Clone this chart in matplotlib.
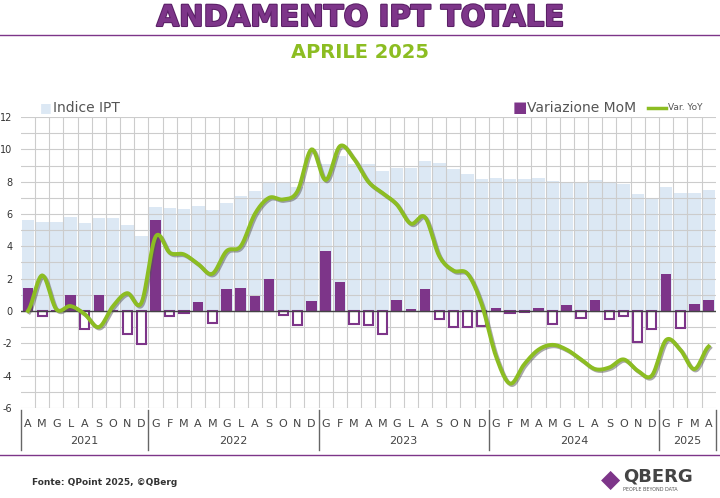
import numpy as np
import matplotlib.pyplot as plt
import matplotlib.patheffects as pe
from matplotlib.transforms import blended_transform_factory

# ================= Data =================
months = (list("AMGLASOND") + list("GFMAMGLASOND") * 3 + list("GFMA"))
years = ["2021", "2022", "2023", "2024", "2025"]
year_counts = [9, 12, 12, 12, 4]

indice = [5.6, 5.5, 5.5, 5.8, 5.45, 5.75, 5.75, 5.3, 4.65,
          6.45, 6.35, 6.3, 6.5, 6.25, 6.65, 7.1, 7.4, 8.0, 7.95, 7.7, 7.9,
          9.1, 9.6, 9.1, 9.1, 8.65, 8.85, 8.85, 9.3, 9.15, 8.8, 8.45, 8.15,
          8.25, 8.15, 8.15, 8.2, 8.05, 8.0, 7.9, 8.1, 7.95, 7.85, 7.25, 6.9,
          7.65, 7.3, 7.3, 7.5]
mom = [1.4, -0.3, 0.05, 1.0, -1.1, 1.0, 0.05, -1.45, -2.05,
       5.65, -0.3, -0.15, 0.55, -0.75, 1.35, 1.4, 0.95, 1.95, -0.25, -0.85, 0.6,
       3.7, 1.8, -0.8, -0.9, -1.4, 0.65, 0.1, 1.35, -0.5, -1.0, -1.0, -0.95,
       0.2, -0.15, -0.05, 0.15, -0.8, 0.35, -0.45, 0.7, -0.5, -0.3, -1.9, -1.1,
       2.3, -1.05, 0.4, 0.65]
yoy = [0.0, 2.2, 0.1, 0.3, -0.2, -1.0, 0.3, 1.1, 0.5,
       4.6, 3.6, 3.5, 2.9, 2.3, 3.7, 4.0, 6.0, 7.0, 6.9, 7.4, 10.0,
       8.1, 10.2, 9.4, 8.0, 7.3, 6.6, 5.4, 5.8, 3.4, 2.5, 2.3, 0.4,
       -2.8, -4.5, -3.3, -2.4, -2.1, -2.4, -3.0, -3.6, -3.5, -3.0, -3.7, -4.0,
       -1.8, -2.4, -3.6, -2.2]
# ========================================

PURPLE = "#7d3589"
GREEN = "#8cbd22"


def catmull_rom(y, steps=12):
    # smooth line through the monthly points
    pts = np.array(y, dtype=float)
    p = np.concatenate([[pts[0]], pts, [pts[-1]]])
    xs, ys = [], []
    for i in range(len(pts) - 1):
        p0, p1, p2, p3 = p[i], p[i + 1], p[i + 2], p[i + 3]
        t = np.linspace(0, 1, steps, endpoint=False)
        yy = 0.5 * (2 * p1 + (-p0 + p2) * t + (2 * p0 - 5 * p1 + 4 * p2 - p3) * t ** 2
                    + (-p0 + 3 * p1 - 3 * p2 + p3) * t ** 3)
        xs.extend(i + t)
        ys.extend(yy)
    xs.append(len(pts) - 1)
    ys.append(pts[-1])
    return np.array(xs), np.array(ys)


fig = plt.figure(figsize=(7.2, 4.98), dpi=100)
ax = fig.add_axes([0.029, 0.181, 0.965, 0.584])
x = np.arange(len(months))

ax.bar(x, indice, width=0.9, color="#dce8f4", zorder=1)
# grid drawn over the light index bars
for gy in range(-6, 13):
    ax.axhline(gy, color="#cccccc", linewidth=0.8, zorder=2)
for gx in x[1:]:
    ax.axvline(gx - 0.5, color="#cccccc", linewidth=0.8, zorder=2)

pos = [v if v > 0 else 0 for v in mom]
neg = [v if v < 0 else 0 for v in mom]
ax.bar(x, pos, width=0.75, color=PURPLE, zorder=3)
ax.bar(x, neg, width=0.65, facecolor="white", edgecolor=PURPLE, linewidth=1.5, zorder=3)
ax.axhline(0, color="#444444", linewidth=1, zorder=4)

sx, sy = catmull_rom(yoy)
ax.plot(sx, sy, color=GREEN, linewidth=2.8, zorder=5,
        path_effects=[pe.SimpleLineShadow(offset=(1, -1), shadow_color="#555555", alpha=0.5),
                      pe.Normal()])

ax.set_xlim(-0.5, len(months) - 0.5)
ax.set_ylim(-6, 12)
ax.set_yticks(range(-6, 13, 2))
ax.set_yticklabels([str(v) for v in range(-6, 13, 2)], fontsize=7, color="#333333")
ax.set_xticks([])
ax.tick_params(axis="y", which="both", length=0, pad=6)
for s in ax.spines.values():
    s.set_visible(False)

# month and year labels
tr = blended_transform_factory(ax.transData, fig.transFigure)
for i, m in enumerate(months):
    fig.text(i, 1 - 424 / 498, m, transform=tr, ha="center", va="center",
             fontsize=8, color="#444444")
start = 0
for yname, cnt in zip(years, year_counts):
    fig.text(start + cnt / 2 - 0.5, 1 - 441 / 498, yname, transform=tr, ha="center",
             va="center", fontsize=8, color="#444444")
    b = start - 0.5
    fig.add_artist(plt.Line2D([b, b], [1 - 410 / 498, 1 - 450 / 498], transform=tr,
                              color="#666666", linewidth=1))
    start += cnt
fig.add_artist(plt.Line2D([start - 0.5, start - 0.5], [1 - 410 / 498, 1 - 450 / 498],
                          transform=tr, color="#666666", linewidth=1))

# legends
fig.text(0.055, 1 - 108 / 498, "\u25a0", color="#dce8f4", fontsize=9, va="center")
fig.text(0.073, 1 - 108 / 498, "Indice IPT", color="#555555", fontsize=10, va="center")
fig.text(0.712, 1 - 108 / 498, "\u25a0", color=PURPLE, fontsize=11, va="center")
fig.text(0.732, 1 - 108 / 498, "Variazione MoM", color="#555555", fontsize=10, va="center")
fig.add_artist(plt.Line2D([0.9, 0.925], [1 - 108 / 498] * 2, color=GREEN, linewidth=2.5))
fig.text(0.928, 1 - 108 / 498, "Var. YoY", color="#555555", fontsize=6.5, va="center")

# header and footer
fig.text(0.5, 1 - 18 / 498, "ANDAMENTO IPT TOTALE", ha="center", va="center",
         fontsize=21, fontweight="black", color=PURPLE, family="DejaVu Sans",
         path_effects=[pe.withStroke(linewidth=1.5, foreground="#5a1f66")])
fig.add_artist(plt.Line2D([0, 1], [1 - 35 / 498] * 2, color=PURPLE, linewidth=1))
fig.text(0.5, 1 - 52 / 498, "APRILE 2025", ha="center", va="center",
         fontsize=14, fontweight="bold", color=GREEN)
fig.add_artist(plt.Line2D([0, 1], [1 - 455 / 498] * 2, color=PURPLE, linewidth=1))
fig.text(0.045, 1 - 482 / 498, "Fonte: QPoint 2025, \u00a9QBerg", fontsize=6.5,
         fontweight="bold", color="#333333", va="center")
fig.text(0.865, 1 - 476 / 498, "QBERG", fontsize=13, fontweight="bold",
         color="#444444", va="center")
fig.text(0.865, 1 - 489 / 498, "PEOPLE BEYOND DATA", fontsize=3.5, color="#555555",
         va="center")
fig.text(0.835, 1 - 480 / 498, "\u25c6", fontsize=18, color=PURPLE, va="center")

fig.savefig("out.png", dpi=100)
